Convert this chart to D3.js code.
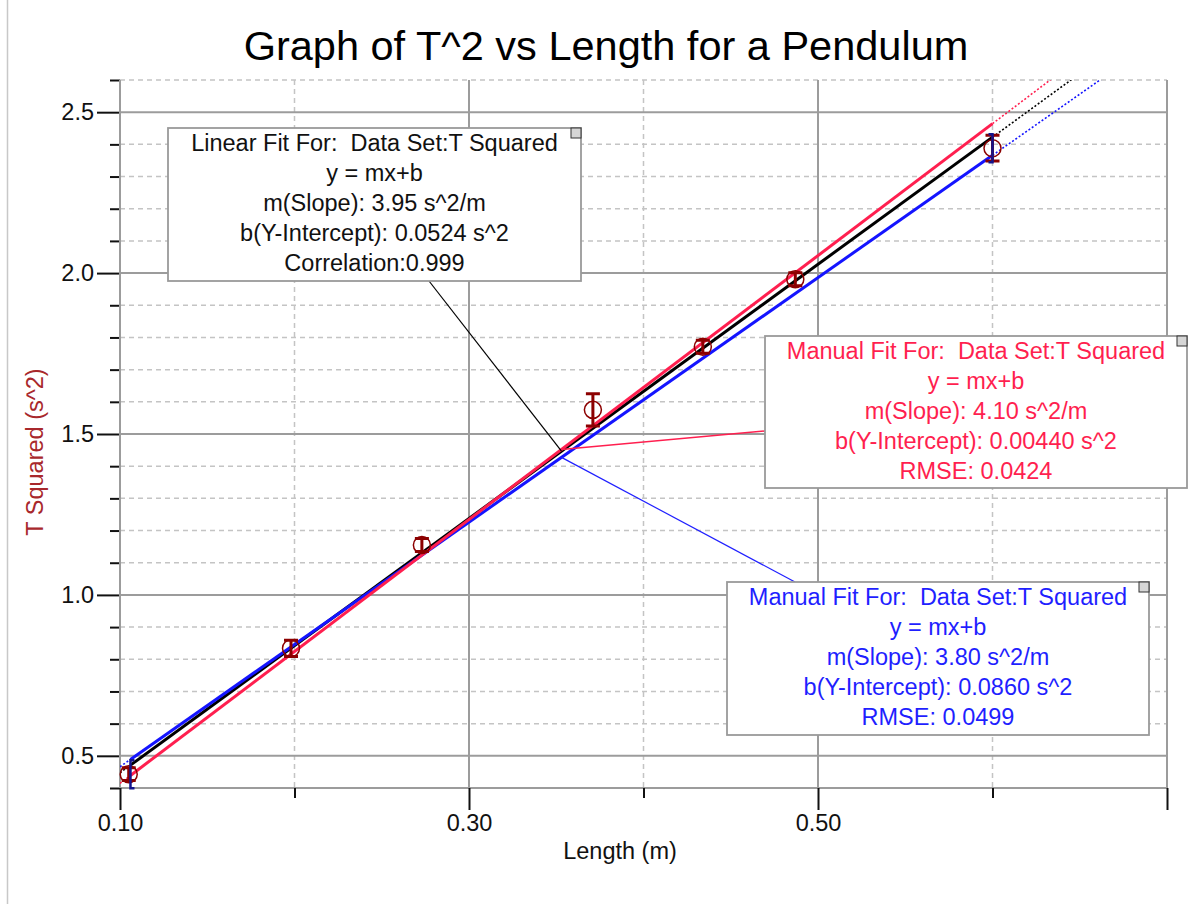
<!DOCTYPE html>
<html>
<head>
<meta charset="utf-8">
<script src="https://cdn.jsdelivr.net/npm/d3@7"></script>
<style>
  body { margin: 0; background: #fff; }
  text { font-family: "Liberation Sans", Arial, sans-serif; white-space: pre; }
</style>
</head>
<body>
<script>
let lengths = [0.105, 0.198, 0.273, 0.371, 0.434, 0.487, 0.600];
let tSquared = [0.443, 0.834, 1.155, 1.575, 1.771, 1.981, 2.388];
let tSqErr = [0.02, 0.025, 0.02, 0.05, 0.02, 0.02, 0.04];

// fits: black = linear fit, red / blue = manual fits
let fitSlopes = [3.95, 4.10, 3.80];
let fitIntercepts = [0.0524, 0.00440, 0.0860];
let fitRange = [0.106, 0.600];
let connectorAt = 0.353;

let xMajor = [0.10, 0.30, 0.50, 0.70];
let xLabels = ["0.10", "0.30", "0.50", ""];
let xMinor = [0.20, 0.40, 0.60];
let yMajor = [0.5, 1.0, 1.5, 2.0, 2.5];

let linearText = ["Linear Fit For:  Data Set:T Squared", "y = mx+b", "m(Slope): 3.95 s^2/m", "b(Y-Intercept): 0.0524 s^2", "Correlation:0.999"];
let redText = ["Manual Fit For:  Data Set:T Squared", "y = mx+b", "m(Slope): 4.10 s^2/m", "b(Y-Intercept): 0.00440 s^2", "RMSE: 0.0424"];
let blueText = ["Manual Fit For:  Data Set:T Squared", "y = mx+b", "m(Slope): 3.80 s^2/m", "b(Y-Intercept): 0.0860 s^2", "RMSE: 0.0499"];

let fitColors = ["#000000", "#ff1f4f", "#1414ff"];
let pointColor = "#8c0000";

var W = 1194, H = 904;
var pLeft = 120, pRight = 1167, pTop = 80, pBottom = 788;

var svg = d3.select("body").append("svg")
  .attr("width", W)
  .attr("height", H);

// window border on the left
svg.append("line")
  .attr("x1", 7.5).attr("x2", 7.5).attr("y1", 0).attr("y2", H)
  .attr("stroke", "#c8c8c8").attr("stroke-width", 1.5);

var x = d3.scaleLinear().domain([0.10, 0.70]).range([pLeft, pRight]);
var y = d3.scaleLinear().domain([0.4, 2.6]).range([pBottom, pTop]);

var yMinor = y.ticks(22).filter(d => Math.abs(d * 2 - Math.round(d * 2)) > 1e-6);

// minor dashed grid
svg.append("g").selectAll("line").data(yMinor).enter().append("line")
  .attr("x1", pLeft).attr("x2", pRight)
  .attr("y1", d => y(d)).attr("y2", d => y(d))
  .attr("stroke", "#c4c4c4").attr("stroke-width", 1.5).attr("stroke-dasharray", "5,4");
svg.append("g").selectAll("line").data(xMinor).enter().append("line")
  .attr("x1", d => x(d)).attr("x2", d => x(d))
  .attr("y1", pTop).attr("y2", pBottom)
  .attr("stroke", "#c4c4c4").attr("stroke-width", 1.5).attr("stroke-dasharray", "5,4");

// major solid grid
svg.append("g").selectAll("line").data(yMajor).enter().append("line")
  .attr("x1", pLeft).attr("x2", pRight)
  .attr("y1", d => y(d)).attr("y2", d => y(d))
  .attr("stroke", "#9c9c9c").attr("stroke-width", 2);
svg.append("g").selectAll("line").data(xMajor).enter().append("line")
  .attr("x1", d => x(d)).attr("x2", d => x(d))
  .attr("y1", pTop).attr("y2", pBottom)
  .attr("stroke", "#9c9c9c").attr("stroke-width", 2);

// frame: bottom solid
svg.append("line").attr("x1", pLeft).attr("x2", pRight).attr("y1", pBottom).attr("y2", pBottom)
  .attr("stroke", "#9c9c9c").attr("stroke-width", 2);

// axes (ticks + labels)
var yAxis = svg.append("g").attr("transform", "translate(" + pLeft + ",0)")
  .call(d3.axisLeft(y).tickValues(yMajor).tickSize(23).tickPadding(3).tickFormat(d3.format(".1f")));
var yAxisMinor = svg.append("g").attr("transform", "translate(" + pLeft + ",0)")
  .call(d3.axisLeft(y).tickValues(yMinor).tickSize(10).tickFormat(""));
var xAxis = svg.append("g").attr("transform", "translate(0," + pBottom + ")")
  .call(d3.axisBottom(x).tickValues(xMajor).tickSize(22).tickPadding(4).tickFormat((d, i) => xLabels[i]));
var xAxisMinor = svg.append("g").attr("transform", "translate(0," + pBottom + ")")
  .call(d3.axisBottom(x).tickValues(xMinor).tickSize(10).tickFormat(""));

[yAxis, yAxisMinor, xAxis, xAxisMinor].forEach(function(g) {
  g.select(".domain").remove();
  g.selectAll(".tick line").attr("stroke", "#111").attr("stroke-width", 2);
  g.selectAll(".tick text").attr("fill", "#111").style("font-size", "23.5px")
    .style("font-family", "'Liberation Sans', Arial, sans-serif");
});
svg.append("line").attr("x1", pLeft).attr("x2", pLeft).attr("y1", pTop).attr("y2", pBottom)
  .attr("stroke", "#9c9c9c").attr("stroke-width", 2);

// titles
svg.append("text")
  .attr("x", 606).attr("y", 60)
  .attr("text-anchor", "middle")
  .style("font-size", "41.5px")
  .attr("fill", "#000")
  .text("Graph of T^2 vs Length for a Pendulum");

svg.append("text")
  .attr("x", 620).attr("y", 859)
  .attr("text-anchor", "middle")
  .style("font-size", "23.5px")
  .attr("fill", "#111")
  .text("Length (m)");

svg.append("text")
  .attr("transform", "translate(43,452) rotate(-90)")
  .attr("text-anchor", "middle")
  .style("font-size", "23.5px")
  .attr("fill", "#a8282c")
  .text("T Squared (s^2)");

// clip for fit lines
svg.append("clipPath").attr("id", "plotclip")
  .append("rect").attr("x", pLeft).attr("y", pTop).attr("width", pRight - pLeft).attr("height", pBottom - pTop);

var fitG = svg.append("g").attr("clip-path", "url(#plotclip)");
var line = d3.line().x(d => x(d[0])).y(d => y(d[1]));

var drawOrder = [0, 2, 1];
drawOrder.forEach(function(i) {
  var m = fitSlopes[i], b = fitIntercepts[i];
  var f = v => [v, m * v + b];
  // dotted extensions
  fitG.append("path")
    .attr("d", line([f(0.10), f(fitRange[0])]))
    .attr("stroke", fitColors[i]).attr("stroke-width", 1.6).attr("stroke-dasharray", "2,2").attr("fill", "none");
  fitG.append("path")
    .attr("d", line([f(fitRange[1]), f(0.70)]))
    .attr("stroke", fitColors[i]).attr("stroke-width", 1.6).attr("stroke-dasharray", "2,2").attr("fill", "none");
  // solid part over the fit range
  fitG.append("path")
    .attr("d", line([f(fitRange[0]), f(fitRange[1])]))
    .attr("stroke", fitColors[i]).attr("stroke-width", 3).attr("fill", "none");
});

// range brackets
var bracketColor = "#14148c";
function bracket(xv, yv, dir) {
  var px = x(xv), py = y(yv);
  svg.append("path")
    .attr("d", "M" + (px + dir * 4) + "," + (py - 14) + "H" + px + "V" + (py + 14) + "H" + (px + dir * 4))
    .attr("stroke", bracketColor).attr("stroke-width", 2.5).attr("fill", "none");
}

// data points with error bars
var pts = lengths.map((d, i) => ({ x: d, y: tSquared[i], e: tSqErr[i] }));
var ptG = svg.append("g");
ptG.selectAll(".eb").data(pts).enter().append("path")
  .attr("d", d => "M" + x(d.x) + "," + y(d.y + d.e) + "V" + y(d.y - d.e) +
    "M" + (x(d.x) - 7) + "," + y(d.y + d.e) + "h14" +
    "M" + (x(d.x) - 7) + "," + y(d.y - d.e) + "h14")
  .attr("stroke", pointColor).attr("stroke-width", 3).attr("fill", "none");
ptG.selectAll("circle").data(pts).enter().append("circle")
  .attr("cx", d => x(d.x)).attr("cy", d => y(d.y)).attr("r", 8.5)
  .attr("fill", "none").attr("stroke", pointColor).attr("stroke-width", 1.5);

bracket(fitRange[0], tSquared[0], 1);
bracket(fitRange[1], tSquared[tSquared.length - 1], -1);

// connector lines from boxes to the fits
var boxes = [
  { lines: linearText, color: "#111111", line: "#000000", x: 168, y: 128, w: 413, h: 153, ax: 429, ay: 281, lw: 1.2 },
  { lines: redText, color: "#ff1f4f", line: "#ff1f4f", x: 765, y: 336, w: 422, h: 152, ax: 765, ay: 431, lw: 1.5 },
  { lines: blueText, color: "#1f1fff", line: "#2020ff", x: 727, y: 582, w: 422, h: 153, ax: 795, ay: 582, lw: 1.2 }
];

boxes.forEach(function(bx, i) {
  svg.append("line")
    .attr("x1", bx.ax).attr("y1", bx.ay)
    .attr("x2", x(connectorAt)).attr("y2", y(fitSlopes[i] * connectorAt + fitIntercepts[i]))
    .attr("stroke", bx.line).attr("stroke-width", bx.lw);
});

boxes.forEach(function(bx) {
  var g = svg.append("g");
  g.append("rect")
    .attr("x", bx.x).attr("y", bx.y).attr("width", bx.w).attr("height", bx.h)
    .attr("fill", "#fff").attr("stroke", "#9a9a9a").attr("stroke-width", 1.8);
  g.append("rect")
    .attr("x", bx.x + bx.w - 10).attr("y", bx.y).attr("width", 10).attr("height", 10)
    .attr("fill", "#d6d6d6").attr("stroke", "#333").attr("stroke-width", 1);
  g.selectAll("text").data(bx.lines).enter().append("text")
    .attr("x", bx.x + bx.w / 2)
    .attr("y", (d, j) => bx.y + 22.5 + j * 30)
    .attr("text-anchor", "middle")
    .style("font-size", "23.5px")
    .attr("fill", bx.color)
    .text(d => d);
});
</script>
</body>
</html>
